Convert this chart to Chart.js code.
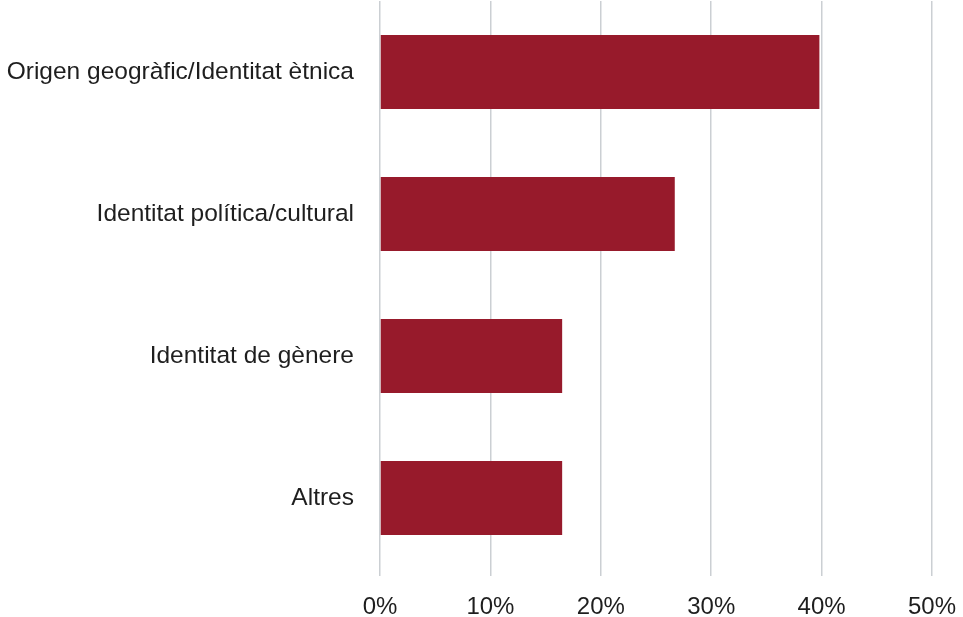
<!DOCTYPE html>
<html>
<head>
<meta charset="utf-8">
<script src="https://cdn.jsdelivr.net/npm/chart.js@4"></script>
<style>
  html, body { margin: 0; padding: 0; background: #fff; }
  #wrap { width: 963px; height: 617px; }
</style>
</head>
<body>
<div id="wrap"><canvas id="chart" width="963" height="617"></canvas></div>
<script>
// Chart data
const categories = ['Origen geogràfic/Identitat ètnica', 'Identitat política/cultural', 'Identitat de gènere', 'Altres'];
const shares = [39.8, 26.7, 16.5, 16.5];
const tickValues = [0, 10, 20, 30, 40, 50];

const barColor = '#971a2b';
const gridColor = '#cbcfd3';
const textColor = '#1e1e1e';

const ctx = document.getElementById('chart').getContext('2d');
new Chart(ctx, {
  type: 'bar',
  data: {
    labels: categories,
    datasets: [{
      data: shares,
      backgroundColor: barColor,
      borderWidth: 0,
      categoryPercentage: 1,
      barPercentage: 0.52
    }]
  },
  options: {
    indexAxis: 'y',
    responsive: false,
    animation: false,
    layout: { padding: { top: 1, right: 31, left: 0, bottom: 0 } },
    plugins: { legend: { display: false }, tooltip: { enabled: false } },
    scales: {
      x: {
        min: 0,
        max: 50,
        afterBuildTicks: scale => { scale.ticks = tickValues.map(v => ({ value: v })); },
        afterFit: scale => {
          scale.height = 48;
          scale.paddingLeft = 0;
          scale.paddingRight = 0;
        },
        border: { display: false },
        grid: { color: gridColor, lineWidth: 1.5, drawTicks: true, tickLength: 7 },
        ticks: {
          padding: 17,
          color: textColor,
          font: { family: 'Liberation Sans, Arial, sans-serif', size: 24 },
          callback: v => v + '%'
        }
      },
      y: {
        afterFit: scale => {
          scale.width = 380;
          scale.paddingTop = 0;
          scale.paddingBottom = 0;
        },
        border: { display: false },
        grid: { display: false, drawTicks: false },
        ticks: {
          padding: 26,
          color: textColor,
          font: { family: 'Liberation Sans, Arial, sans-serif', size: 24.5 }
        }
      }
    }
  }
});
</script>
</body>
</html>
